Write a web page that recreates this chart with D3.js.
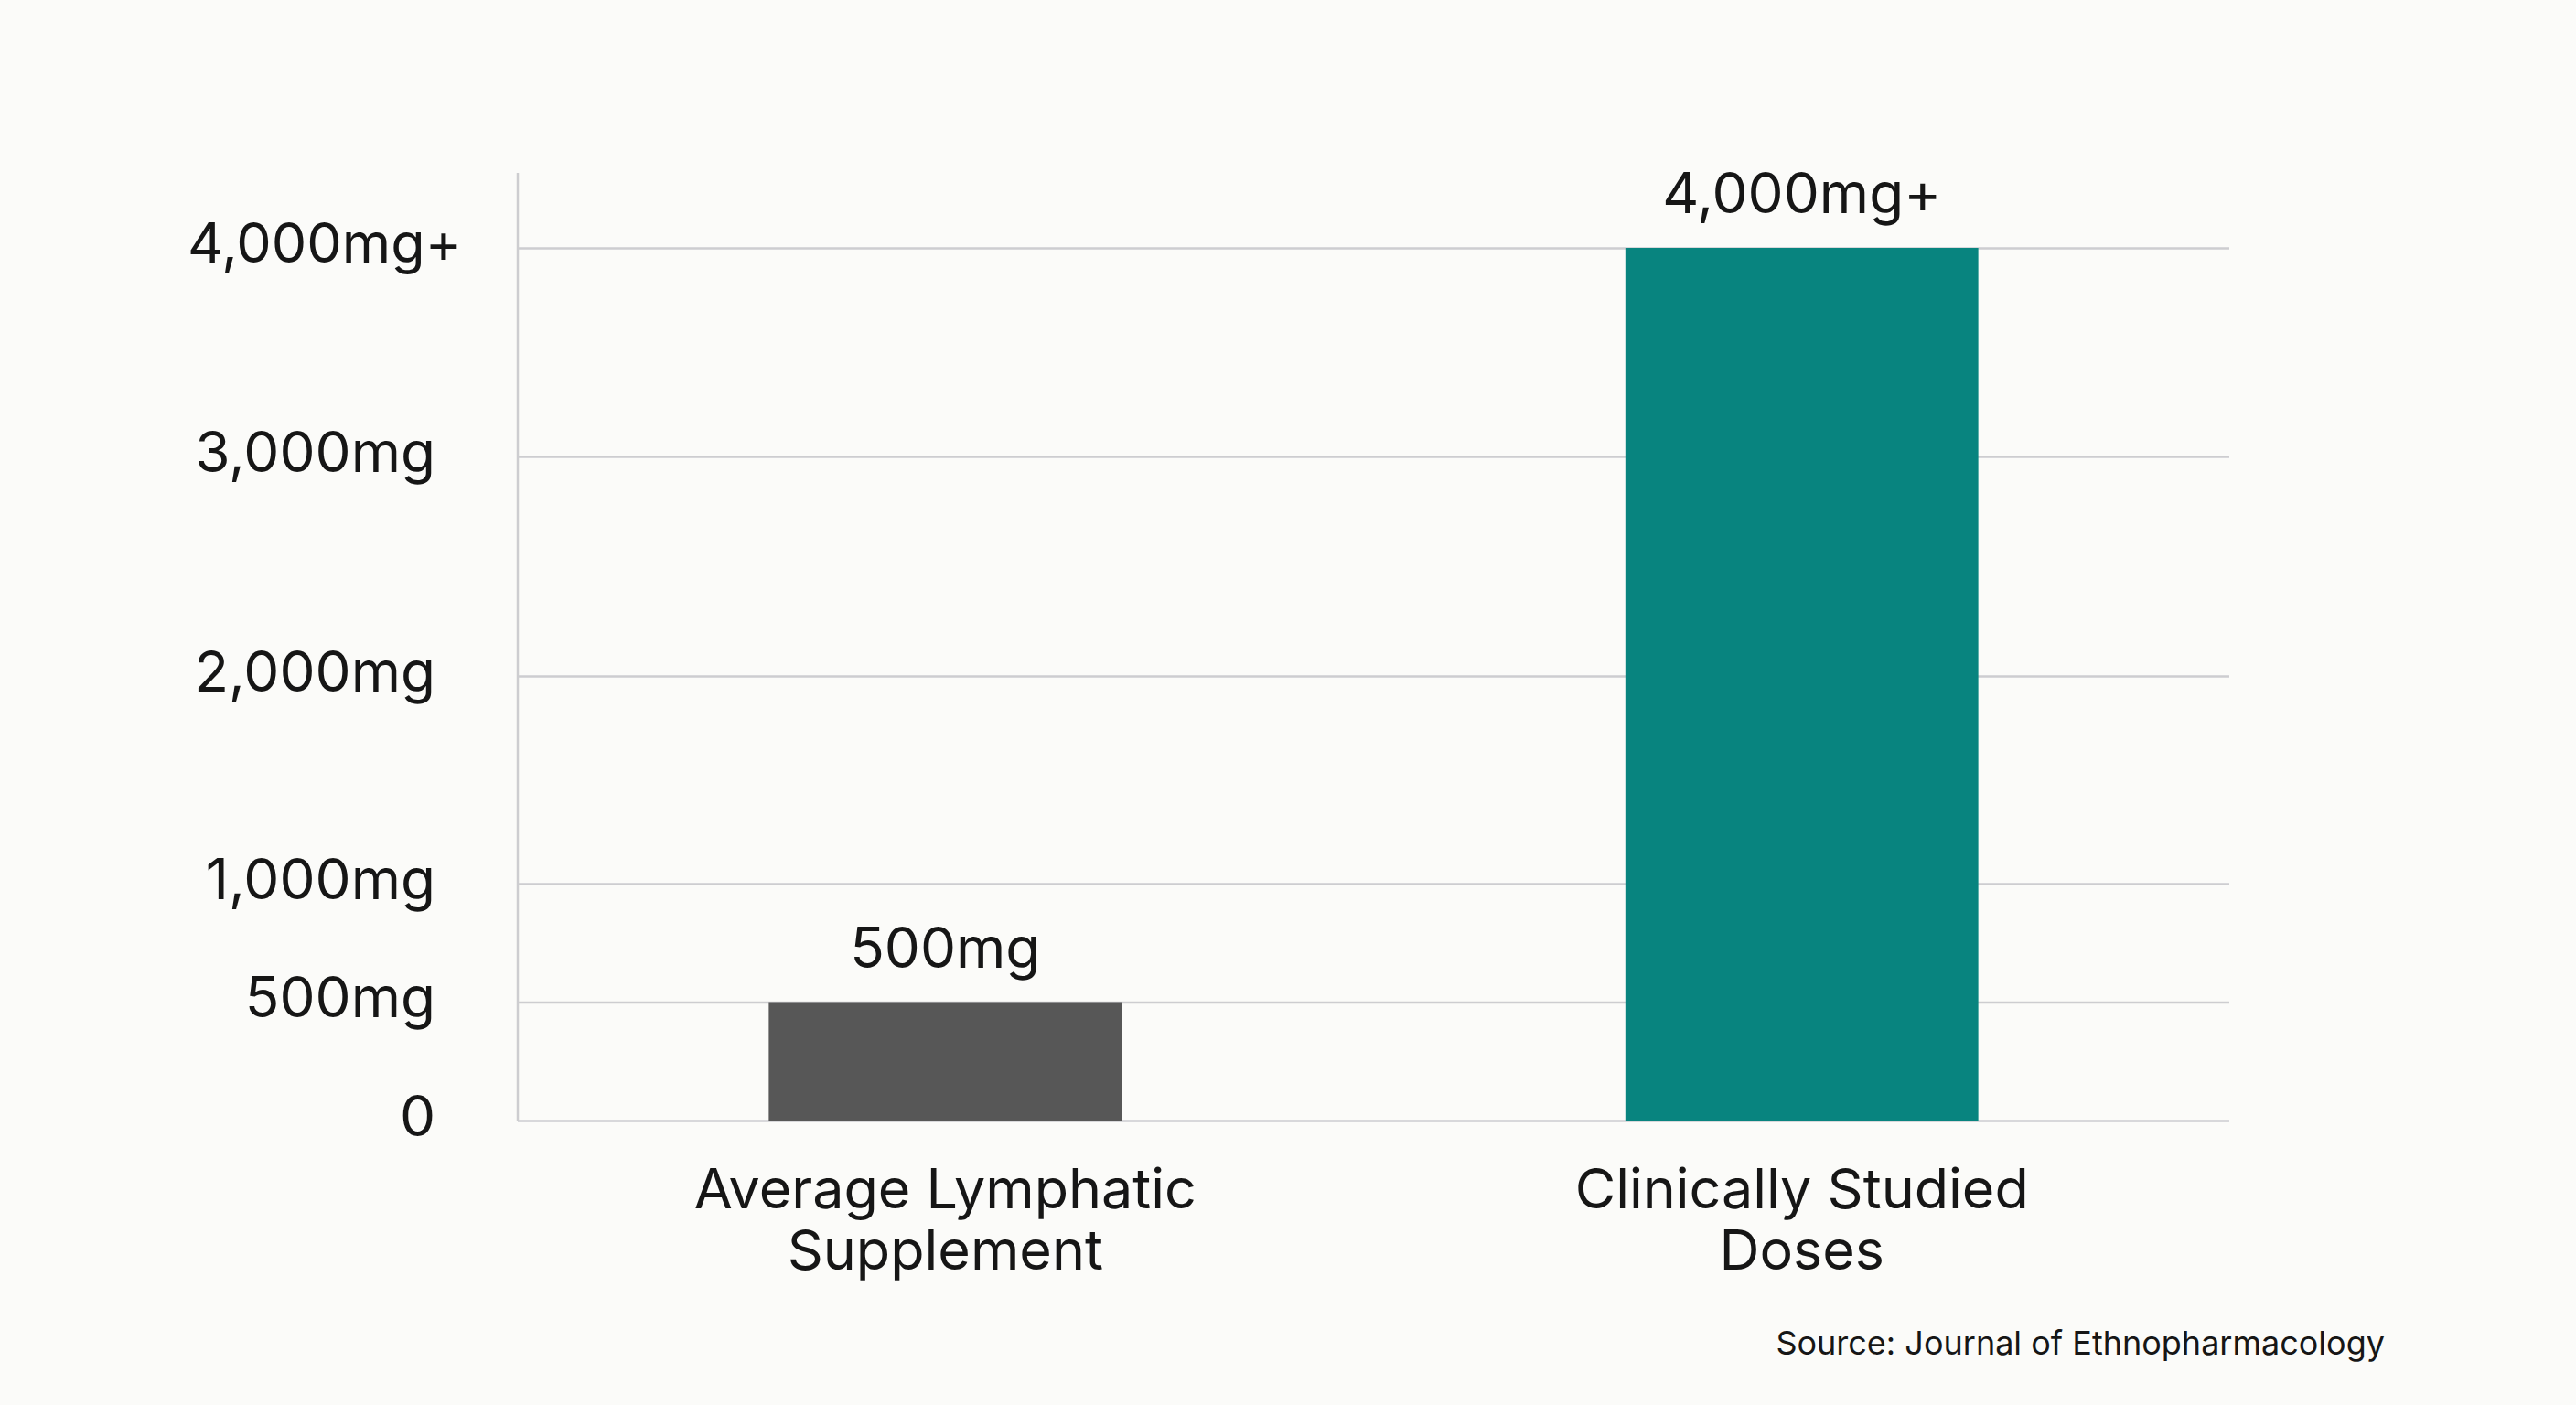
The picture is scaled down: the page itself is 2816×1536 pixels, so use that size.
<!DOCTYPE html>
<html>
<head>
<meta charset="utf-8">
<script src="https://cdn.jsdelivr.net/npm/d3@7"></script>
<style>
  html, body { margin: 0; padding: 0; background: #FBFBF9; }
  svg { display: block; font-family: Inter, "Noto Sans", sans-serif; }
</style>
</head>
<body>
<svg id="chart" width="2816" height="1536"></svg>
<script>
(function () {
    const W = 2816, H = 1536;

    // data
    const categories  = ["Average Lymphatic\nSupplement", "Clinically Studied\nDoses"];
    const values      = [500, 4000];
    const valueLabels = ["500mg", "4,000mg+"];
    const tickValues  = [0, 500, 1000, 2000, 3000, 4000];
    const tickLabels  = ["0", "500mg", "1,000mg", "2,000mg", "3,000mg", "4,000mg+"];
    const barColors   = ["#575757", "#08847F"];
    const source      = "Source: Journal of Ethnopharmacology";

    const BG = "#FBFBF9";
    const GRID = "#CDCDD0";
    const TEXT = "#161616";

    const svg = d3.select("#chart");
    svg.append("rect").attr("width", W).attr("height", H).attr("fill", BG);

    const plot = { left: 566, right: 2437, top: 189, bottom: 1225 };

    const x = d3.scaleBand()
        .domain(d3.range(categories.length))
        .range([plot.left, plot.right])
        .paddingInner(0.588)
        .paddingOuter(0.293);

    // axis is not evenly spaced in the source: lower part is stretched
    const y = d3.scaleLinear()
        .domain([0, 1000, 2000, 3000, 4000])
        .range([plot.bottom, 966, 739, 499, 271]);

    // gridlines
    const yAxis = d3.axisLeft(y)
        .tickValues(tickValues)
        .tickSize(-(plot.right - plot.left))
        .tickFormat("");
    const gGrid = svg.append("g")
        .attr("transform", `translate(${plot.left},0)`)
        .call(yAxis);
    gGrid.select(".domain").remove();
    gGrid.selectAll(".tick line")
        .attr("stroke", GRID)
        .attr("stroke-width", 2.5);

    // vertical axis line
    svg.append("line")
        .attr("x1", plot.left).attr("x2", plot.left)
        .attr("y1", plot.top).attr("y2", plot.bottom)
        .attr("stroke", GRID)
        .attr("stroke-width", 2.5);

    // tick labels
    svg.append("g").selectAll("text")
        .data(tickValues)
        .join("text")
        .attr("x", (d, i) => i === tickValues.length - 1 ? 505 : 476)
        .attr("y", d => y(d))
        .attr("dy", "0.27em")
        .attr("text-anchor", "end")
        .attr("font-size", (d, i) => i === tickValues.length - 1 ? "61px" : "62px")
        .attr("fill", TEXT)
        .text((d, i) => tickLabels[i]);

    // bars
    svg.append("g").selectAll("rect")
        .data(values)
        .join("rect")
        .attr("x", (d, i) => x(i))
        .attr("y", d => y(d))
        .attr("width", x.bandwidth())
        .attr("height", d => y(0) - y(d))
        .attr("fill", (d, i) => barColors[i]);

    // value labels
    svg.append("g").selectAll("text")
        .data(values)
        .join("text")
        .attr("x", (d, i) => x(i) + x.bandwidth() / 2)
        .attr("y", d => y(d) - 38)
        .attr("text-anchor", "middle")
        .attr("font-size", "62px")
        .attr("fill", TEXT)
        .text((d, i) => valueLabels[i]);

    // category labels
    const cat = svg.append("g").selectAll("text")
        .data(categories)
        .join("text")
        .attr("x", (d, i) => x(i) + x.bandwidth() / 2)
        .attr("y", 1321)
        .attr("text-anchor", "middle")
        .attr("font-size", "61px")
        .attr("fill", TEXT);
    cat.selectAll("tspan")
        .data(d => d.split("\n"))
        .join("tspan")
        .attr("x", function () { return d3.select(this.parentNode).attr("x"); })
        .attr("dy", (d, i) => i === 0 ? 0 : 67)
        .text(d => d);

    // source note
    svg.append("text")
        .attr("x", 2607)
        .attr("y", 1481)
        .attr("text-anchor", "end")
        .attr("font-size", "36px")
        .attr("fill", TEXT)
        .text(source);
})();
</script>
</body>
</html>
